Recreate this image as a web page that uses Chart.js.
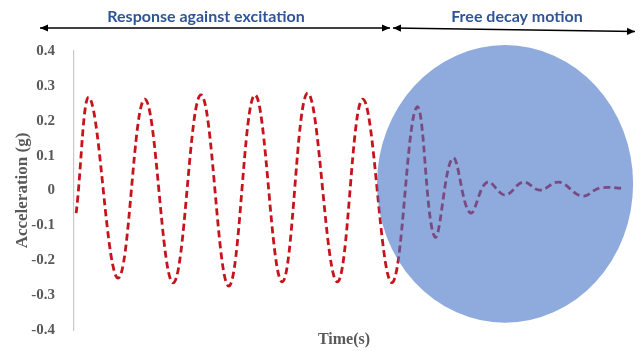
<!DOCTYPE html>
<html>
<head>
<meta charset="utf-8">
<script src="https://cdn.jsdelivr.net/npm/chart.js@4"></script>
<style>
  html, body { margin: 0; padding: 0; background: #ffffff; }
  #wrap { width: 640px; height: 351px; position: relative; }
  canvas { display: block; }
</style>
</head>
<body>
<div id="wrap"><canvas id="chart" width="640" height="351"></canvas></div>
<script>
// Sampled response: time (s) and acceleration (g) at each peak and trough
const timeS = [
  0.04, 0.29, 0.81, 1.30, 1.82, 2.33, 2.84, 3.32, 3.82, 4.29,
  4.83, 5.30, 5.83, 6.29, 6.62, 6.95, 7.27, 7.58, 7.91, 8.24,
  8.55, 8.90, 9.32, 9.65, 10.11
];
const accelG = [
  -0.065, 0.265, -0.251, 0.262, -0.265, 0.274, -0.274, 0.274, -0.262, 0.279,
  -0.262, 0.262, -0.264, 0.239, -0.133, 0.093, -0.064, 0.024, -0.013, 0.024,
  0.001, 0.024, -0.016, 0.007, 0.006
];
const yTicks = [0.4, 0.3, 0.2, 0.1, 0, -0.1, -0.2, -0.3, -0.4];
const phaseLabels = ['Response against excitation', 'Free decay motion'];

// Highlight region over the free decay part, in axis units
const decayZone = { t: 7.91, g: 0.019, rt: 2.35, rg: 0.398 };

const points = timeS.map((t, i) => ({ x: t, y: accelG[i] }));

function arrow(ctx, x1, y1, x2, y2, headStart, headEnd) {
  ctx.beginPath();
  ctx.moveTo(x1, y1);
  ctx.lineTo(x2, y2);
  ctx.stroke();
  const ang = Math.atan2(y2 - y1, x2 - x1);
  const head = (x, y, a) => {
    const len = 8, hw = 3.6;
    ctx.beginPath();
    ctx.moveTo(x, y);
    ctx.lineTo(x - len * Math.cos(a) + hw * Math.sin(a), y - len * Math.sin(a) - hw * Math.cos(a));
    ctx.lineTo(x - len * Math.cos(a) - hw * Math.sin(a), y - len * Math.sin(a) + hw * Math.cos(a));
    ctx.closePath();
    ctx.fill();
  };
  if (headEnd) head(x2, y2, ang);
  if (headStart) head(x1, y1, ang + Math.PI);
}

const overlay = {
  id: 'overlay',
  afterDatasetsDraw(chart) {
    const { ctx, scales: { x, y } } = chart;
    // translucent ellipse over the decaying tail
    const cx = x.getPixelForValue(decayZone.t);
    const cy = y.getPixelForValue(decayZone.g);
    const rx = x.getPixelForValue(decayZone.t + decayZone.rt) - cx;
    const ry = cy - y.getPixelForValue(decayZone.g + decayZone.rg);
    ctx.save();
    ctx.fillStyle = 'rgba(68,114,196,0.6)';
    ctx.beginPath();
    ctx.ellipse(cx, cy, rx, ry, 0, 0, Math.PI * 2);
    ctx.fill();
    ctx.restore();
  },
  afterDraw(chart) {
    const { ctx } = chart;
    ctx.save();
    // phase arrows
    ctx.strokeStyle = '#000000';
    ctx.fillStyle = '#000000';
    ctx.lineWidth = 1.6;
    arrow(ctx, 40, 28, 390, 28, true, true);
    arrow(ctx, 393, 28, 635, 31.5, true, true);
    // phase labels
    ctx.fillStyle = '#2f5597';
    ctx.font = 'bold 16px Lato';
    ctx.textAlign = 'center';
    ctx.textBaseline = 'middle';
    ctx.fillText(phaseLabels[0], 206, 17);
    ctx.fillText(phaseLabels[1], 517, 17);
    // x-axis title
    ctx.fillStyle = '#595959';
    ctx.font = 'bold 16px "Liberation Serif"';
    ctx.fillText('Time(s)', 344, 340);
    ctx.restore();
  }
};

new Chart(document.getElementById('chart'), {
  type: 'line',
  data: {
    datasets: [{
      data: points,
      borderColor: 'rgb(198,20,28)',
      borderWidth: 2.8,
      borderDash: [7, 4],
      pointRadius: 0,
      fill: false,
      tension: 0.4,
      clip: false
    }]
  },
  options: {
    responsive: false,
    animation: false,
    layout: { padding: { top: 51, right: 8, left: 0, bottom: 0 } },
    plugins: { legend: { display: false }, tooltip: { enabled: false } },
    scales: {
      x: {
        type: 'linear',
        min: 0,
        max: 10.24,
        grid: { display: false },
        border: { display: false },
        ticks: { display: false },
        title: { display: false },
        afterFit(scale) { scale.height = 21; }
      },
      y: {
        min: -0.4,
        max: 0.4,
        afterBuildTicks(scale) { scale.ticks = yTicks.map(v => ({ value: v })); },
        grid: { display: false },
        border: { display: true, color: '#c8c8c8', width: 1.2 },
        ticks: {
          color: '#595959',
          padding: 11,
          font: { family: '"Liberation Serif"', size: 15, weight: 'bold' },
          callback: v => String(Math.round(v * 10) / 10)
        },
        title: {
          display: true,
          text: 'Acceleration (g)',
          color: '#595959',
          font: { family: '"Liberation Serif"', size: 17, weight: 'bold' },
          padding: { top: 12, bottom: 0 }
        },
        afterFit(scale) { scale.width = 74; }
      }
    }
  },
  plugins: [overlay]
});
</script>
</body>
</html>
